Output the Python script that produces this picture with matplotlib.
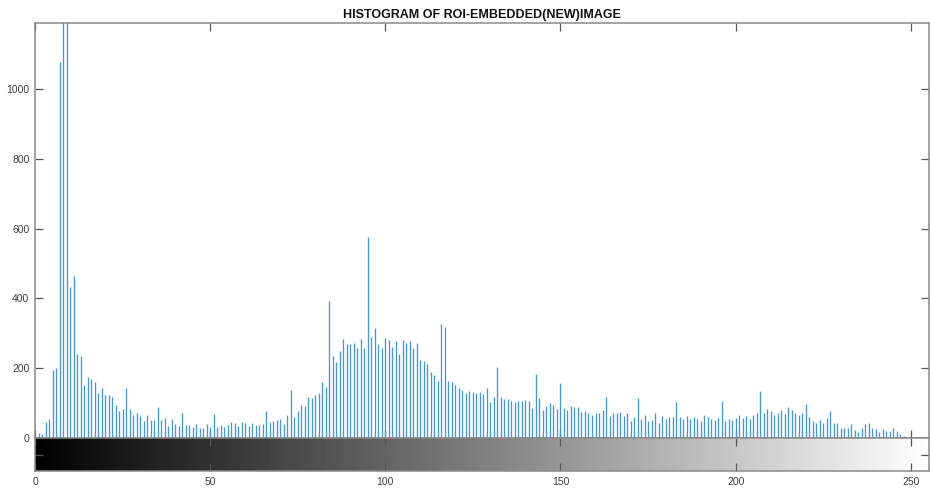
import numpy as np
import matplotlib
matplotlib.use("Agg")
import matplotlib.pyplot as plt

# ── Histogram counts (bins 0..255) ────────────────────────────────────────────
counts_0_39 = [0, 14, 12, 45, 54, 194, 200, 1077, 1400, 1300,
               432, 465, 240, 236, 151, 175, 170, 160, 129, 143,
               122, 124, 117, 95, 78, 83, 143, 83, 67, 72,
               64, 50, 67, 52, 52, 89, 52, 57, 35, 55]
counts_40_79 = [41, 35, 72, 37, 37, 32, 40, 30, 28, 40,
                32, 69, 32, 37, 32, 37, 45, 43, 35, 45,
                42, 35, 42, 37, 37, 40, 78, 45, 50, 52,
                55, 40, 67, 138, 61, 78, 95, 93, 118, 116]
counts_80_119 = [123, 128, 161, 147, 392, 235, 219, 249, 285, 268,
                 268, 271, 257, 285, 257, 576, 290, 314, 268, 257,
                 287, 282, 261, 278, 242, 282, 271, 278, 257, 273,
                 223, 222, 211, 188, 180, 163, 328, 319, 163, 160]
counts_120_159 = [151, 142, 137, 128, 135, 131, 129, 132, 126, 142,
                  102, 118, 204, 118, 112, 112, 107, 102, 107, 105,
                  109, 107, 85, 182, 114, 80, 92, 99, 94, 83,
                  157, 85, 80, 92, 90, 90, 75, 77, 73, 66]
counts_160_199 = [71, 73, 80, 118, 63, 71, 71, 75, 63, 71,
                  49, 61, 114, 53, 66, 49, 52, 71, 44, 63,
                  55, 61, 61, 104, 59, 53, 63, 54, 61, 54,
                  49, 66, 59, 54, 52, 56, 105, 49, 54, 52]
counts_200_255 = [58, 66, 56, 64, 53, 66, 73, 135, 73, 83,
                  77, 66, 73, 80, 68, 90, 80, 73, 66, 71,
                  96, 61, 49, 44, 52, 42, 58, 77, 42, 44,
                  28, 28, 30, 39, 23, 18, 28, 41, 44, 30,
                  25, 16, 27, 20, 20, 28, 20, 11, 7, 0,
                  0, 0, 0, 0, 0, 0]

counts = np.array(counts_0_39 + counts_40_79 + counts_80_119 +
                  counts_120_159 + counts_160_199 + counts_200_255)
bins = np.arange(len(counts))

x_ticks = [0, 50, 100, 150, 200, 250]
y_ticks = [0, 200, 400, 600, 800, 1000]
title = "HISTOGRAM OF ROI-EMBEDDED(NEW)IMAGE"

plt.rcParams['font.family'] = ['Liberation Sans', 'DejaVu Sans']

spine_col = '#8a8a8a'
tick_col = '#555555'
label_col = '#404040'

fig = plt.figure(figsize=(9.30, 4.91), dpi=100)
fig.patch.set_facecolor('white')

# main histogram axes
ax = fig.add_axes([35 / 930, 1 - 438 / 491, 894 / 930, (438 - 23.3) / 491])
ax.vlines(bins, 0, counts, color='#4597d6', linewidth=0.95)
ax.set_xlim(0, 255.2)
ax.set_ylim(0, 1188)
ax.set_xticks(x_ticks)
ax.set_yticks(y_ticks)
ax.tick_params(axis='both', direction='in', length=6, width=0.9, color=tick_col,
               top=True, right=True, labelbottom=False, labelsize=7.5,
               labelcolor=label_col, pad=4)
for sp in ax.spines.values():
    sp.set_color(spine_col)
    sp.set_linewidth(1.1)
ax.set_title(title, fontsize=9, fontweight='bold', color='#111111', pad=4)

# grey-level colour strip below
cax = fig.add_axes([35 / 930, 1 - 471 / 491, 894 / 930, 33 / 491])
grad = np.linspace(0, 1, 256).reshape(1, -1)
cax.imshow(grad, cmap='gray', aspect='auto', extent=(0, 255.2, 0, 1),
           interpolation='bilinear')
cax.set_xlim(0, 255.2)
cax.set_ylim(0, 1)
cax.set_xticks(x_ticks)
cax.set_yticks([0.5])
cax.set_yticklabels([])
cax.tick_params(axis='both', direction='in', length=6, width=0.9, color=tick_col,
                top=True, right=True, labelsize=7.5, labelcolor=label_col, pad=4)
for sp in cax.spines.values():
    sp.set_color(spine_col)
    sp.set_linewidth(1.1)

fig.savefig('out.png', dpi=100)
